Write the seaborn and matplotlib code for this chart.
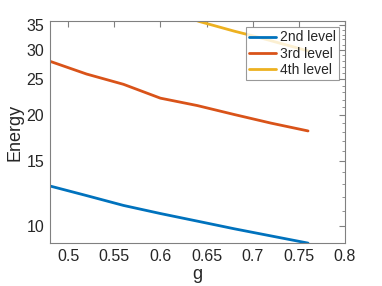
import numpy as np
import pandas as pd
import matplotlib
matplotlib.use("Agg")
import matplotlib.pyplot as plt
import seaborn as sns
from matplotlib.ticker import FixedLocator, NullFormatter, MultipleLocator, FuncFormatter

# values
g_vals = [0.48, 0.52, 0.56, 0.60, 0.64, 0.68, 0.72, 0.76]
level2 = [12.85, 12.1, 11.38, 10.82, 10.32, 9.84, 9.41, 9.0]
level3 = [27.95, 25.8, 24.2, 22.2, 21.2, 20.05, 19.0, 18.1]
g_4th = [0.48, 0.52, 0.56, 0.60, 0.642, 0.68, 0.705, 0.76]
level4 = [48.0, 45.0, 42.0, 39.0, 35.8, 33.7, 32.5, 29.8]

labels = ["2nd level", "3rd level", "4th level"]
colors = ["#0072BD", "#D95319", "#EDB120"]

df = pd.concat([
    pd.DataFrame({"g": g_vals, "Energy": level2, "level": labels[0]}),
    pd.DataFrame({"g": g_vals, "Energy": level3, "level": labels[1]}),
    pd.DataFrame({"g": g_4th, "Energy": level4, "level": labels[2]}),
])

sns.set_style("white")
plt.rcParams["font.family"] = ["Liberation Sans", "DejaVu Sans"]

fig, ax = plt.subplots(figsize=(3.82, 2.86), dpi=100)
fig.subplots_adjust(left=0.13, right=0.903, top=0.925, bottom=0.15)

sns.lineplot(data=df, x="g", y="Energy", hue="level",
             palette=dict(zip(labels, colors)), linewidth=2, ax=ax)

ax.set_yscale("log")
ax.set_xlim(0.48, 0.8)
ax.set_ylim(9.0, 35.8)

ax.yaxis.set_major_locator(FixedLocator([10, 15, 20, 25, 30, 35]))
ax.yaxis.set_major_formatter(FuncFormatter(lambda v, p: f"{v:g}"))
ax.yaxis.set_minor_locator(MultipleLocator(1))
ax.yaxis.set_minor_formatter(NullFormatter())
ax.set_xticks([0.5, 0.55, 0.6, 0.65, 0.7, 0.75, 0.8])
ax.set_xticklabels(["0.5", "0.55", "0.6", "0.65", "0.7", "0.75", "0.8"])

spine_col = "#808080"
for s in ax.spines.values():
    s.set_color(spine_col)
    s.set_linewidth(0.8)
ax.tick_params(which="both", direction="in", top=True, right=True,
               color=spine_col, labelsize=11.5, labelcolor="#262626")
ax.tick_params(which="major", length=4, pad=4)
ax.tick_params(which="minor", length=2)

ax.set_xlabel("g", fontsize=13, color="#262626", labelpad=2)
ax.set_ylabel("Energy", fontsize=13, color="#262626", labelpad=2)

leg = ax.legend(loc="upper right", fontsize=10, frameon=True, fancybox=False,
                edgecolor="#808080", borderpad=0.25, handlelength=1.9,
                handletextpad=0.3, labelspacing=0.15, borderaxespad=0.4)
leg.get_frame().set_linewidth(0.8)

fig.savefig("out.png", dpi=100)
